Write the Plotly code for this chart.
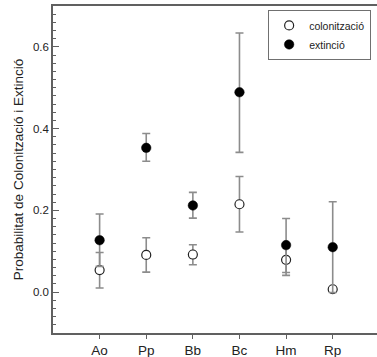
import plotly.graph_objects as go

categories = ["Ao", "Pp", "Bb", "Bc", "Hm", "Rp"]

col_values = [0.054, 0.091, 0.092, 0.215, 0.079, 0.007]
col_err_plus = [0.043, 0.042, 0.024, 0.068, 0.038, 0.004]
col_err_minus = [0.044, 0.042, 0.025, 0.068, 0.038, 0.004]

ext_values = [0.127, 0.353, 0.212, 0.489, 0.115, 0.110]
ext_err_plus = [0.064, 0.035, 0.032, 0.145, 0.065, 0.111]
ext_err_minus = [0.064, 0.033, 0.031, 0.147, 0.067, 0.111]

series_names = ["colonització", "extinció"]

font_family = "Arial, Liberation Sans, sans-serif"
err_color = "#8c8c8c"
axis_color = "#606060"

fig = go.Figure()

fig.add_trace(go.Scatter(
    x=categories, y=col_values, mode="markers", name=series_names[0],
    marker=dict(symbol="circle", size=9, color="white",
                line=dict(color="#222222", width=1.2)),
    error_y=dict(type="data", symmetric=False, array=col_err_plus,
                 arrayminus=col_err_minus, color=err_color,
                 thickness=1.6, width=4),
))

fig.add_trace(go.Scatter(
    x=categories, y=ext_values, mode="markers", name=series_names[1],
    marker=dict(symbol="circle", size=9.5, color="black",
                line=dict(color="black", width=0.5)),
    error_y=dict(type="data", symmetric=False, array=ext_err_plus,
                 arrayminus=ext_err_minus, color=err_color,
                 thickness=1.6, width=4),
))

fig.update_layout(
    width=377, height=357,
    margin=dict(l=53, r=0, t=6, b=24),
    paper_bgcolor="white", plot_bgcolor="white",
    font=dict(family=font_family, color="#222222"),
    showlegend=True,
    legend=dict(
        x=0.664, y=0.988, xanchor="left", yanchor="top",
        bgcolor="white", bordercolor="#707070", borderwidth=1,
        font=dict(size=10.5, family=font_family, color="#222222"),
    ),
    xaxis=dict(
        type="category", range=[-1, 5.95],
        showline=True, linecolor=axis_color, linewidth=1.5, mirror=True,
        ticks="outside", ticklen=4, tickcolor=axis_color, tickwidth=1,
        showgrid=False, zeroline=False,
        tickfont=dict(size=13.5, family=font_family, color="#222222"),
    ),
    yaxis=dict(
        range=[-0.1, 0.7], tick0=0, dtick=0.2, tickformat=".1f",
        showline=True, linecolor=axis_color, linewidth=1.5,
        ticks="inside", ticklen=6, tickcolor=axis_color, tickwidth=1,
        minor=dict(dtick=0.02, ticks="inside", ticklen=3.5,
                   tickcolor=axis_color, tickwidth=1, showgrid=False),
        showgrid=False, zeroline=False,
        tickfont=dict(size=11.5, family=font_family, color="#222222"),
        title=dict(text="Probabilitat de Colonització i Extinció",
                   font=dict(size=13.5, family=font_family, color="#222222"),
                   standoff=6),
    ),
)

fig.write_html("out.html")
